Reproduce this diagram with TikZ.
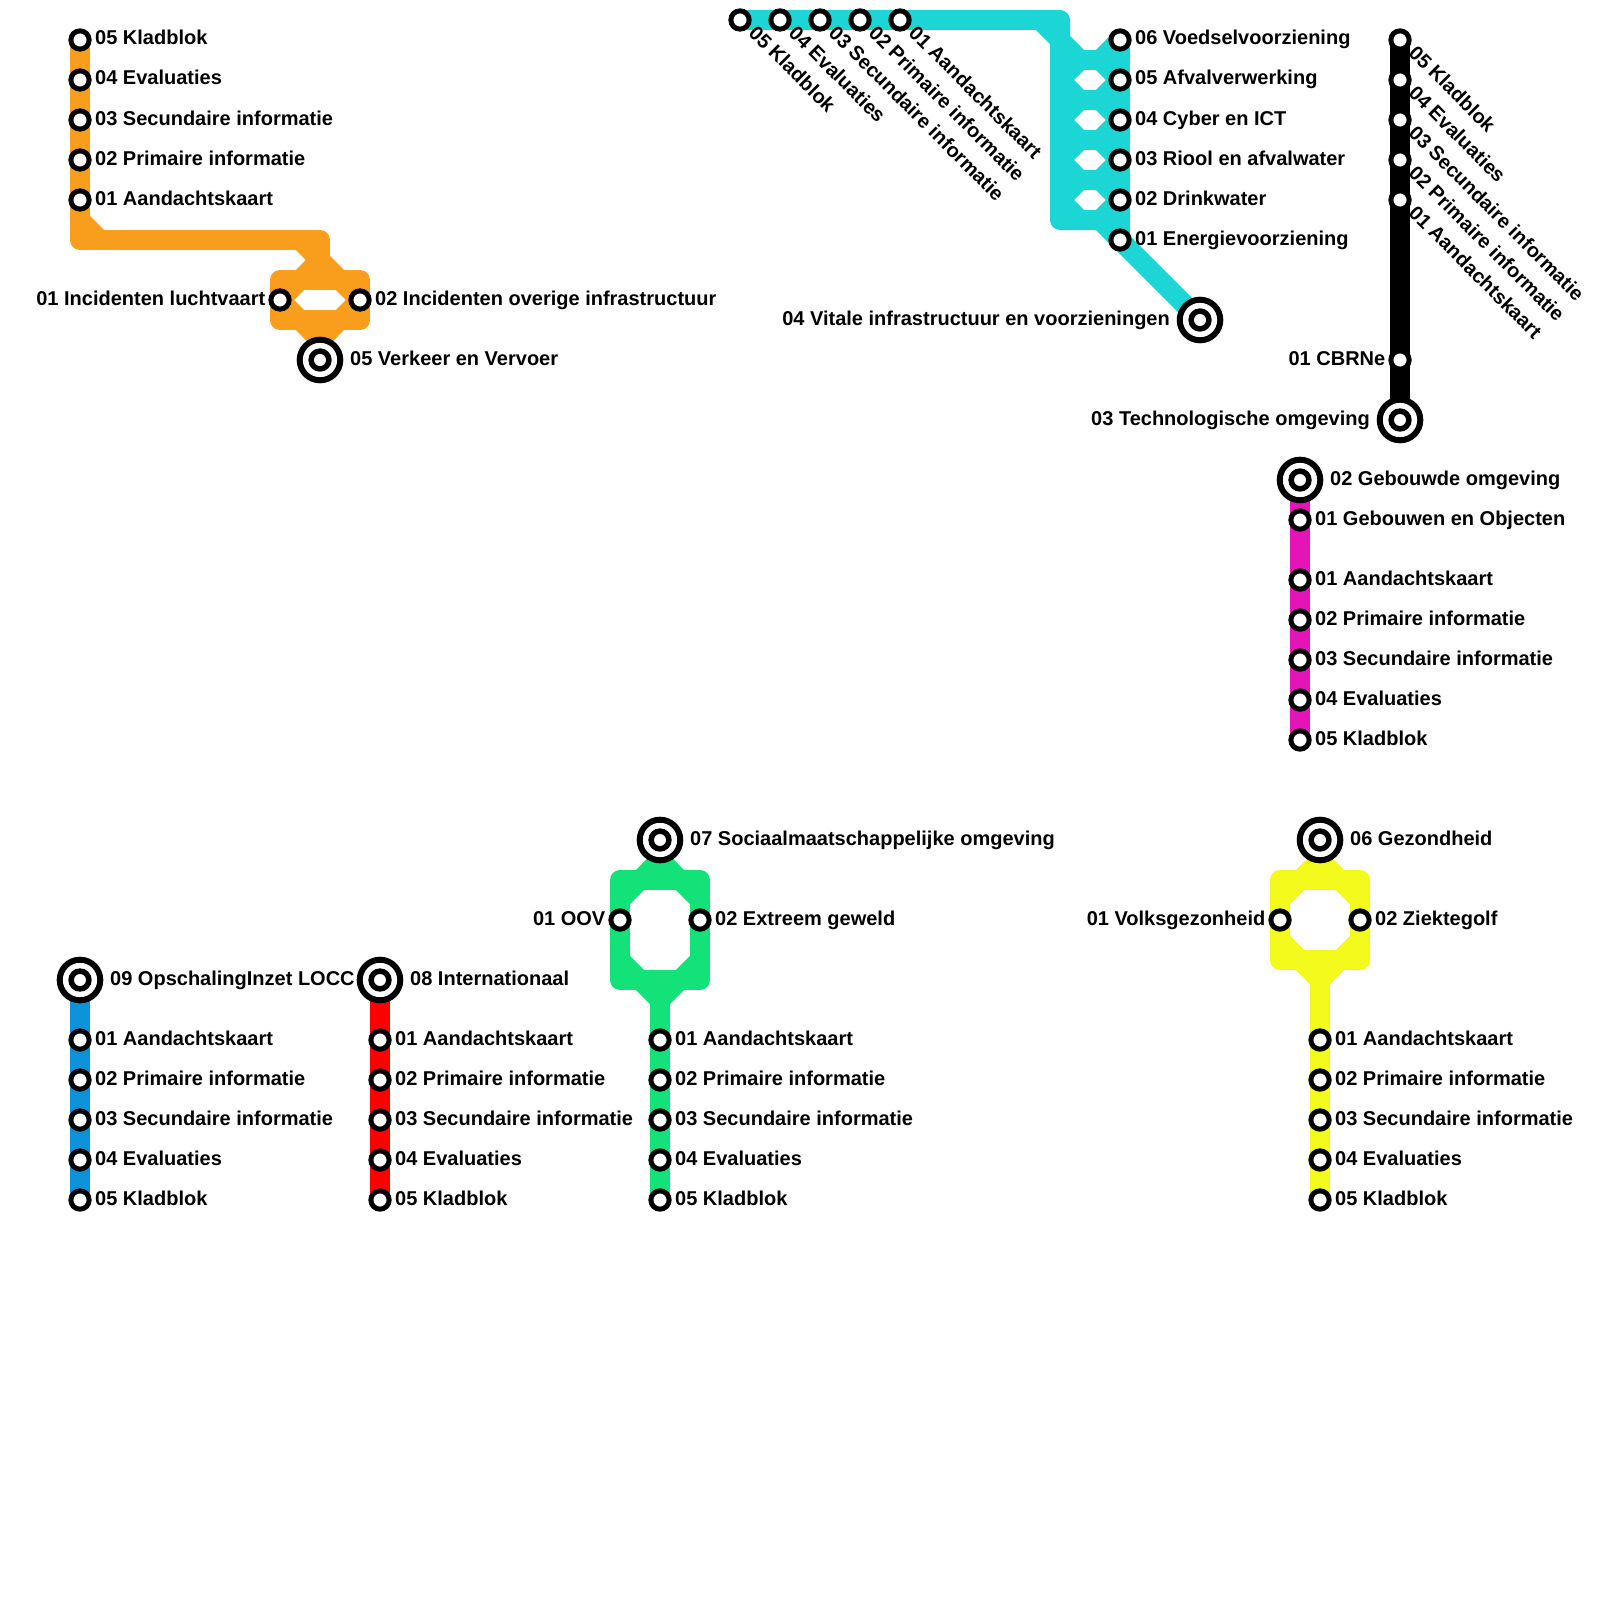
\documentclass[tikz,border=0pt]{standalone}
\usepackage{fontspec}
\setmainfont{Liberation Sans}
\usetikzlibrary{backgrounds}
\definecolor{oranje}{HTML}{F99D1C}
\definecolor{turkoois}{HTML}{1CD6D6}
\definecolor{magenta2}{HTML}{E514B8}
\definecolor{groen}{HTML}{13E278}
\definecolor{geel}{HTML}{F4F91C}
\definecolor{blauw}{HTML}{0C92D8}
\tikzset{
  halte/.style={circle, draw=black, fill=white, line width=5pt, inner sep=0pt, minimum size=18.3pt},
  eindhalte/.style={circle, draw=black, fill=white, line width=6pt, inner sep=0pt, minimum size=40.6pt},
  kern/.style={circle, draw=black, fill=white, line width=5.5pt, inner sep=0pt, minimum size=17.8pt},
  tekstr/.style={anchor=base west, inner sep=0pt, font=\fontsize{20}{24}\selectfont\bfseries},
  tekstl/.style={anchor=base east, inner sep=0pt, font=\fontsize{20}{24}\selectfont\bfseries},
  tekstschuin/.style={tekstr, rotate=-45},
  lijn/.style={line width=20pt, line join=round, line cap=round}
}
\begin{document}
\begin{tikzpicture}[x=1pt,y=-1pt]
  \useasboundingbox (0,0) rectangle (1600,1600);

  % Verkeer en Vervoer
  \foreach \y/\tekst in {40/05 Kladblok, 80/04 Evaluaties, 120/03 Secundaire informatie, 160/02 Primaire informatie, 200/01 Aandachtskaart} {
    \node [halte] (verkeer\y) at (80,\y) {};
    \node [tekstr] (verkeertekst\y) at (95,\y+5) {\tekst};
  }
  \node [halte] (luchtvaart) at (280,300) {};
  \node [halte] (overig) at (360,300) {};
  \node [eindhalte] (verkeer) at (320,360) {};
  \node [kern] (verkeerkern) at (320,360) {};
  \node [tekstl] (luchtvaarttekst) at (265.5,305) {01 Incidenten luchtvaart};
  \node [tekstr] (overigtekst) at (375,305) {02 Incidenten overige infrastructuur};
  \node [tekstr] (verkeertekst) at (350,365) {05 Verkeer en Vervoer};
  \begin{pgfonlayer}{background}
    \coordinate (vhoek) at (80,240);
    \coordinate (vschuin) at (100,240);
    \coordinate (vtop) at (320,240);
    \coordinate (vaanzet) at (300,240);
    \coordinate (vsplit) at (320,260);
    \coordinate (vsamen) at (320,340);
    \draw [lijn, oranje] (verkeer40.center) -- (vhoek) -- (vtop) -- (vsplit);
    \draw [lijn, oranje] (80,220) -- (vschuin);
    \draw [lijn, oranje] (vaanzet) -- (overig.center) -- (vsamen) -- (luchtvaart.center) -- (vsplit);
    \draw [lijn, oranje] (280,280) rectangle (360,320);
    \draw [lijn, oranje] (vsamen) -- (verkeer.center);
  \end{pgfonlayer}

  % Vitale infrastructuur
  \foreach \x/\tekst in {740/05 Kladblok, 780/04 Evaluaties, 820/03 Secundaire informatie, 860/02 Primaire informatie, 900/01 Aandachtskaart} {
    \node [halte] (vitaal\x) at (\x,20) {};
    \node [tekstschuin] (vitaaltekst\x) at (\x+7.5,34) {\tekst};
  }
  \foreach \y/\tekst in {40/06 Voedselvoorziening, 80/05 Afvalverwerking, 120/04 Cyber en ICT, 160/03 Riool en afvalwater, 200/02 Drinkwater, 240/01 Energievoorziening} {
    \node [halte] (sector\y) at (1120,\y) {};
    \node [tekstr] (sectortekst\y) at (1135,\y+5) {\tekst};
  }
  \node [eindhalte] (vitaal) at (1200,320) {};
  \node [kern] (vitaalkern) at (1200,320) {};
  \node [tekstl] (vitaaltekst) at (1170,325) {04 Vitale infrastructuur en voorzieningen};
  \begin{pgfonlayer}{background}
    \coordinate (thoek) at (1060,20);
    \coordinate (tonder) at (1060,220);
    \coordinate (tvertrek) at (1100,220);
    \draw [lijn, turkoois] (vitaal740.center) -- (thoek) -- (tonder) -- (tvertrek) -- (vitaal.center);
    \draw [lijn, turkoois] (1040,20) -- (1080,60);
    \draw [lijn, turkoois] (sector40.center) -- (sector240.center);
    \draw [lijn, turkoois] (sector40.center) -- (1100,60);
    \foreach \y in {60,100,140,180} {
      \draw [lijn, turkoois] (1060,\y) -- (1120,\y);
    }
    \foreach \y in {80,120,160,200} {
      \draw [lijn, turkoois] (1080,\y-20) -- (1060,\y) -- (1080,\y+20);
      \draw [lijn, turkoois] (1100,\y-20) -- (sector\y.center) -- (1100,\y+20);
    }
  \end{pgfonlayer}

  % Technologische omgeving
  \foreach \y/\tekst in {40/05 Kladblok, 80/04 Evaluaties, 120/03 Secundaire informatie, 160/02 Primaire informatie, 200/01 Aandachtskaart} {
    \node [halte] (techniek\y) at (1400,\y) {};
    \node [tekstschuin] (technieklabel\y) at (1407.5,\y+14) {\tekst};
  }
  \node [halte] (cbrn) at (1400,360) {};
  \node [tekstl] (cbrntekst) at (1385.5,365) {01 CBRNe};
  \node [eindhalte] (techniek) at (1400,420) {};
  \node [kern] (techniekkern) at (1400,420) {};
  \node [tekstl] (technieklabel) at (1370,425) {03 Technologische omgeving};
  \begin{pgfonlayer}{background}
    \draw [lijn, black] (techniek40.center) -- (techniek.center);
  \end{pgfonlayer}

  % Gebouwde omgeving
  \node [eindhalte] (gebouwd) at (1300,480) {};
  \node [kern] (gebouwdkern) at (1300,480) {};
  \node [tekstr] (gebouwdtekst) at (1330,485) {02 Gebouwde omgeving};
  \foreach \y/\tekst in {520/01 Gebouwen en Objecten, 580/01 Aandachtskaart, 620/02 Primaire informatie, 660/03 Secundaire informatie, 700/04 Evaluaties, 740/05 Kladblok} {
    \node [halte] (gebouw\y) at (1300,\y) {};
    \node [tekstr] (gebouwtekst\y) at (1315,\y+5) {\tekst};
  }
  \begin{pgfonlayer}{background}
    \draw [lijn, magenta2] (gebouwd.center) -- (gebouw740.center);
  \end{pgfonlayer}

  % Eindhaltes met de vijf vaste documenten
  \node [eindhalte] (locc) at (80,980) {};
  \node [kern] (locckern) at (80,980) {};
  \node [tekstr] (locctekst) at (110,985) {09 OpschalingInzet LOCC};
  \node [eindhalte] (inter) at (380,980) {};
  \node [kern] (interkern) at (380,980) {};
  \node [tekstr] (intertekst) at (410,985) {08 Internationaal};
  \node [eindhalte] (sociaal) at (660,840) {};
  \node [kern] (sociaalkern) at (660,840) {};
  \node [tekstr] (sociaaltekst) at (690,845) {07 Sociaalmaatschappelijke omgeving};
  \node [eindhalte] (gezond) at (1320,840) {};
  \node [kern] (gezondkern) at (1320,840) {};
  \node [tekstr] (gezondtekst) at (1350,845) {06 Gezondheid};
  \foreach \naam/\x in {locc/80, inter/380, sociaal/660, gezond/1320} {
    \foreach \y/\tekst in {1040/01 Aandachtskaart, 1080/02 Primaire informatie, 1120/03 Secundaire informatie, 1160/04 Evaluaties, 1200/05 Kladblok} {
      \node [halte] (\naam\y) at (\x,\y) {};
      \node [tekstr] (\naam tekst\y) at (\x+15,\y+5) {\tekst};
    }
  }
  \node [halte] (oov) at (620,920) {};
  \node [halte] (geweld) at (700,920) {};
  \node [tekstl] (oovtekst) at (605.5,925) {01 OOV};
  \node [tekstr] (geweldtekst) at (715,925) {02 Extreem geweld};
  \node [halte] (volks) at (1280,920) {};
  \node [halte] (ziekte) at (1360,920) {};
  \node [tekstl] (volkstekst) at (1265.5,925) {01 Volksgezonheid};
  \node [tekstr] (ziektetekst) at (1375,925) {02 Ziektegolf};
  \begin{pgfonlayer}{background}
    \draw [lijn, blauw] (locc.center) -- (locc1200.center);
    \draw [lijn, red] (inter.center) -- (inter1200.center);
    % Sociaal
    \coordinate (ssplit) at (660,860);
    \coordinate (ssamen) at (660,1000);
    \draw [lijn, groen] (sociaal.center) -- (ssplit);
    \draw [lijn, groen] (620,880) rectangle (700,980);
    \draw [lijn, groen] (oov.center |- 0,900) -- (ssplit) -- (geweld.center |- 0,900);
    \draw [lijn, groen] (oov.center |- 0,960) -- (ssamen) -- (geweld.center |- 0,960);
    \draw [lijn, groen] (ssamen) -- (sociaal1200.center);
    % Gezondheid
    \coordinate (gsplit) at (1320,860);
    \coordinate (gsamen) at (1320,980);
    \draw [lijn, geel] (gezond.center) -- (gsplit);
    \draw [lijn, geel] (1280,880) rectangle (1360,960);
    \draw [lijn, geel] (volks.center |- 0,900) -- (gsplit) -- (ziekte.center |- 0,900);
    \draw [lijn, geel] (volks.center |- 0,940) -- (gsamen) -- (ziekte.center |- 0,940);
    \draw [lijn, geel] (gsamen) -- (gezond1200.center);
  \end{pgfonlayer}
\end{tikzpicture}
\end{document}
